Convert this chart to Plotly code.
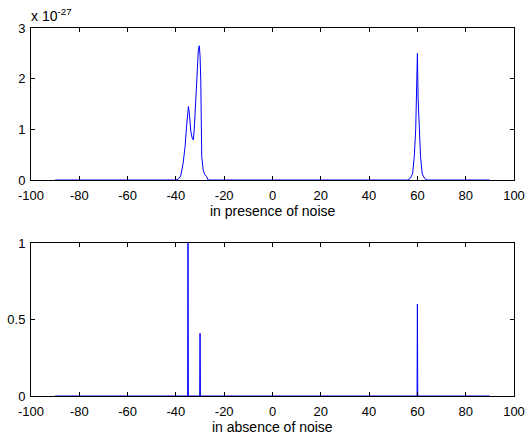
import plotly.graph_objects as go

# ---- data ----
# top panel: spectrum in presence of noise (values in units of 1e-27)
noise_angle = [-90, -40, -39, -38, -37, -36.2, -35.6, -35.1, -34.8, -34.4, -33.8, -33.2, -32.8,
               -32.4, -32.1, -31.4, -30.7, -30.3, -30.0, -29.7, -29.3, -28.7, -28.0, -27.3, -26.6,
               56, 57, 58, 58.7, 59.3, 59.7, 60, 60.3, 60.7, 61.3, 62, 63, 64, 90]
noise_power = [0, 0, 0.02, 0.08, 0.33, 0.66, 1.05, 1.41, 1.45, 1.3, 0.95, 0.82, 0.79,
               1.0, 1.32, 1.97, 2.57, 2.65, 2.45, 1.97, 0.46, 0.2, 0.1, 0.065, 0,
               0, 0.03, 0.12, 0.46, 1.0, 1.6, 2.5, 1.6, 1.0, 0.46, 0.12, 0.03, 0, 0]

# bottom panel: spectrum in absence of noise
clean_angle = [-90, -35.15, -35, -34.85, -30.15, -30, -29.85, 59.85, 60, 60.15, 90]
clean_power = [0, 0, 1.0, 0, 0, 0.41, 0, 0, 0.6, 0, 0]

x_ticks = [-100, -80, -60, -40, -20, 0, 20, 40, 60, 80, 100]
x_tick_text = ["-100", "-80", "-60", "-40", "-20", "0", "20", "40", "60", "80", "100"]
top_y_ticks = [0, 1, 2, 3]
top_y_text = ["0", "1", "2", "3"]
bot_y_ticks = [0, 0.5, 1]
bot_y_text = ["0", "0.5", "1"]
top_label = "in presence of noise"
bot_label = "in absence of noise"
exponent_label = "x 10<sup>-27</sup>"

W, H = 526, 435
FAMILY = "Liberation Sans, Arial, Helvetica, sans-serif"
TICK_FONT = dict(family=FAMILY, size=13, color="black")
LABEL_FONT = dict(family=FAMILY, size=14, color="black")

fig = go.Figure()
fig.add_trace(go.Scatter(x=noise_angle, y=noise_power, mode="lines",
                         line=dict(color="#0000FF", width=1), xaxis="x", yaxis="y",
                         showlegend=False, hoverinfo="skip"))
fig.add_trace(go.Scatter(x=clean_angle, y=clean_power, mode="lines",
                         line=dict(color="#0000FF", width=1), xaxis="x2", yaxis="y2",
                         showlegend=False, hoverinfo="skip"))

xdom = [31 / W, 514 / W]
ytop = [1 - 180 / H, 1 - 28 / H]
ybot = [1 - 396 / H, 1 - 243 / H]

axis_common = dict(showline=True, linecolor="black", linewidth=1, mirror="allticks",
                   ticks="inside", ticklen=4, tickcolor="black", showgrid=False,
                   zeroline=False, tickfont=TICK_FONT, automargin=False, tickmode="array")

fig.update_layout(
    width=W, height=H, margin=dict(l=0, r=0, t=0, b=0, autoexpand=False),
    paper_bgcolor="white", plot_bgcolor="white", font=TICK_FONT,
    xaxis=dict(domain=xdom, range=[-100, 100], tickvals=x_ticks, ticktext=x_tick_text,
               anchor="y", ticklabelstandoff=3, **axis_common),
    yaxis=dict(domain=ytop, range=[0, 3], tickvals=top_y_ticks, ticktext=top_y_text,
               anchor="x", ticklabelstandoff=2, **axis_common),
    xaxis2=dict(domain=xdom, range=[-100, 100], tickvals=x_ticks, ticktext=x_tick_text,
                anchor="y2", ticklabelstandoff=3, **axis_common),
    yaxis2=dict(domain=ybot, range=[0, 1], tickvals=bot_y_ticks, ticktext=bot_y_text,
                anchor="x2", ticklabelstandoff=2, **axis_common),
)

fig.add_annotation(text=top_label, xref="paper", yref="paper", x=(31 + 514) / 2 / W,
                   y=1 - 211 / H, xanchor="center", yanchor="middle", showarrow=False,
                   font=LABEL_FONT)
fig.add_annotation(text=bot_label, xref="paper", yref="paper", x=(31 + 514) / 2 / W,
                   y=1 - 427 / H, xanchor="center", yanchor="middle", showarrow=False,
                   font=LABEL_FONT)
fig.add_annotation(text=exponent_label, xref="paper", yref="paper", x=29 / W,
                   y=1 - 15 / H, xanchor="left", yanchor="middle", showarrow=False,
                   font=LABEL_FONT)

fig.write_html("out.html", config={"displayModeBar": False},
               post_script="document.body.style.margin='0';")
